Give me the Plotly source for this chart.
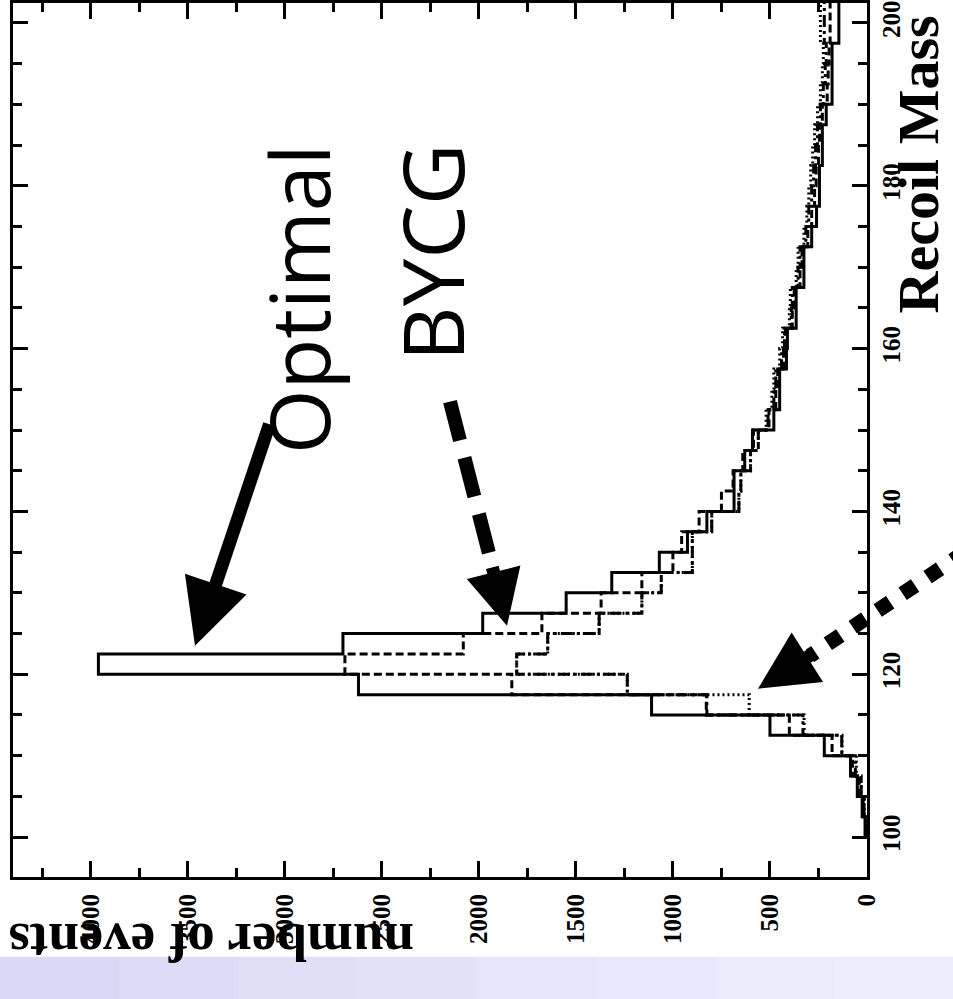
import plotly.graph_objects as go

# Lower edges of the 2.5 GeV recoil-mass bins
bin_lo = [100.0, 102.5, 105.0, 107.5, 110.0, 112.5, 115.0, 117.5, 120.0, 122.5,
          125.0, 127.5, 130.0, 132.5, 135.0, 137.5, 140.0, 142.5, 145.0, 147.5,
          150.0, 152.5, 155.0, 157.5, 160.0, 162.5, 165.0, 167.5, 170.0, 172.5,
          175.0, 177.5, 180.0, 182.5, 185.0, 187.5, 190.0, 192.5, 195.0, 197.5,
          200.0]
bin_width = 2.5

# Events per bin for the four reconstructions
optimal = [10, 25, 50, 85, 220, 500, 1110, 2620, 3960, 2700,
           1980, 1550, 1315, 1070, 925, 825, 685, 685, 630, 590,
           480, 450, 450, 415, 410, 365, 365, 325, 325, 285,
           260, 245, 245, 230, 230, 210, 180, 180, 180, 145,
           145]
bycg = [8, 20, 40, 75, 180, 400, 828, 1830, 2690, 2080,
        1675, 1370, 1160, 1000, 955, 865, 750, 690, 640, 585,
        505, 470, 460, 430, 420, 385, 375, 345, 335, 305,
        285, 270, 262, 250, 245, 230, 205, 200, 195, 190,
        190]
dashdot_set = [5, 15, 30, 60, 130, 330, 825, 1235, 1805, 1645,
               1380, 1160, 1060, 900, 900, 800, 660, 650, 600, 560,
               510, 480, 470, 440, 425, 390, 385, 355, 345, 315,
               300, 285, 275, 265, 255, 240, 225, 215, 210, 220,
               220]
dotted_set = [5, 15, 30, 55, 129, 324, 607, 1235, 1805, 1645,
              1380, 1160, 1060, 900, 900, 800, 660, 650, 600, 560,
              520, 490, 480, 450, 435, 400, 395, 365, 355, 325,
              310, 300, 290, 280, 270, 255, 240, 230, 225, 240,
              240]

event_ticks = [0, 500, 1000, 1500, 2000, 2500, 3000, 3500, 4000]
mass_ticks = [100, 120, 140, 160, 180, 200]

W, H = 953, 999
ML, MR, MT, MB = 13, 86, 0, 122
PW, PH = W - ML - MR, H - MT - MB


def px(x, y):
    """Pixel position on the page -> paper coordinates."""
    return (x - ML) / PW, 1 - (y - MT) / PH


def step_xy(values):
    xs = [0] + list(values) + [values[-1]]
    ys = [bin_lo[0]] + list(bin_lo) + [bin_lo[-1] + bin_width]
    return xs, ys


fig = go.Figure()
styles = [
    (dotted_set, "2px,3px"),
    (dashdot_set, "12px,4px,3px,4px"),
    (bycg, "8px,4px"),
    (optimal, "solid"),
]
for vals, dash in styles:
    xs, ys = step_xy(vals)
    fig.add_trace(go.Scatter(x=xs, y=ys, mode="lines", line_shape="vh",
                             line=dict(color="black", width=3, dash=dash),
                             showlegend=False, hoverinfo="skip"))

tickfont = dict(family="Liberation Serif", size=25, color="black", weight="bold")
fig.update_xaxes(range=[4400, 0], tickmode="array", tickvals=event_ticks,
                 ticktext=[str(v) for v in event_ticks], tickangle=-90,
                 ticks="inside", ticklen=16, tickwidth=2.5, tickcolor="black",
                 minor=dict(dtick=250, tick0=0, ticks="inside", ticklen=9,
                            tickwidth=2.5, tickcolor="black"),
                 showline=True, linewidth=3, linecolor="black", mirror="ticks",
                 showgrid=False, zeroline=False, tickfont=tickfont,
                 ticklabelstandoff=4)
fig.update_yaxes(range=[95.1, 202.45], side="right", tickmode="array",
                 tickvals=mass_ticks, ticktext=[str(v) for v in mass_ticks],
                 tickangle=-90, ticks="inside", ticklen=15, tickwidth=2.5,
                 tickcolor="black",
                 minor=dict(dtick=5, tick0=100, ticks="inside", ticklen=9,
                            tickwidth=2.5, tickcolor="black"),
                 showline=True, linewidth=3, linecolor="black", mirror="ticks",
                 showgrid=False, zeroline=False, tickfont=tickfont,
                 ticklabelstandoff=0)

shapes = []
# lavender band along the bottom of the page
band_cols = ["#d9d9f6", "#dcdcf7", "#dfdff8", "#e2e2f9", "#e5e5fa", "#e8e8fb", "#ebebfb", "#ededfc"]
nb = len(band_cols)
for i, c in enumerate(band_cols):
    x0, y0 = px(W * i / nb, 957)
    x1, y1 = px(W * (i + 1) / nb + 1, H + 2)
    shapes.append(dict(type="rect", xref="paper", yref="paper", x0=x0, x1=x1,
                       y0=y1, y1=y0, fillcolor=c, line=dict(width=0), layer="above"))

# dashed arrow shaft (BYCG)
a0 = px(450, 400)
a1 = px(493, 568)
shapes.append(dict(type="line", xref="paper", yref="paper", x0=a0[0], y0=a0[1],
                   x1=a1[0], y1=a1[1], line=dict(color="black", width=14, dash="40px,18px")))
# dotted arrow shaft
b0 = px(965, 551)
b1 = px(810, 655)
shapes.append(dict(type="line", xref="paper", yref="paper", x0=b0[0], y0=b0[1],
                   x1=b1[0], y1=b1[1], line=dict(color="black", width=15, dash="15px,15px")))

annotations = []
common = dict(xref="paper", yref="paper", xanchor="center", yanchor="middle")
# big labels
ox, oy = px(298, 297)
annotations.append(dict(text="Optimal", x=ox, y=oy, showarrow=False, textangle=-90,
                        font=dict(family="Open Sans", size=83, color="black"), **common))
bx, by = px(431, 250)
annotations.append(dict(text="BYCG", x=bx, y=by, showarrow=False, textangle=-90,
                        font=dict(family="Open Sans", size=85, color="black"), **common))
# axis titles
rx, ry = px(918, 162)
annotations.append(dict(text="Recoil Mass", x=rx, y=ry, showarrow=False, textangle=-90,
                        font=dict(family="Liberation Serif", size=58, color="black",
                                  weight="bold"), **common))
nx, ny = px(212, 942)
annotations.append(dict(text="number of events", x=nx, y=ny, showarrow=False,
                        textangle=180,
                        font=dict(family="Liberation Serif", size=55, color="black",
                                  weight="bold"), **common))

# arrows
h1 = px(195, 645)
annotations.append(dict(text="", x=h1[0], y=h1[1], showarrow=True, ax=75, ay=-223,
                        arrowhead=2, arrowsize=1, arrowwidth=13, arrowcolor="black",
                        xref="paper", yref="paper"))
h2 = px(507, 625)
annotations.append(dict(text="", x=h2[0], y=h2[1], showarrow=True, ax=-15, ay=-60,
                        arrowhead=2, arrowsize=0.85, arrowwidth=13, arrowcolor="black",
                        xref="paper", yref="paper"))
h3 = px(758, 688)
annotations.append(dict(text="", x=h3[0], y=h3[1], showarrow=True, ax=55, ay=-35,
                        arrowhead=2, arrowsize=0.9, arrowwidth=13, arrowcolor="black",
                        xref="paper", yref="paper"))

fig.update_layout(width=W, height=H, margin=dict(l=ML, r=MR, t=MT, b=MB),
                  paper_bgcolor="white", plot_bgcolor="white",
                  shapes=shapes, annotations=annotations, showlegend=False)

fig.write_html("out.html")
